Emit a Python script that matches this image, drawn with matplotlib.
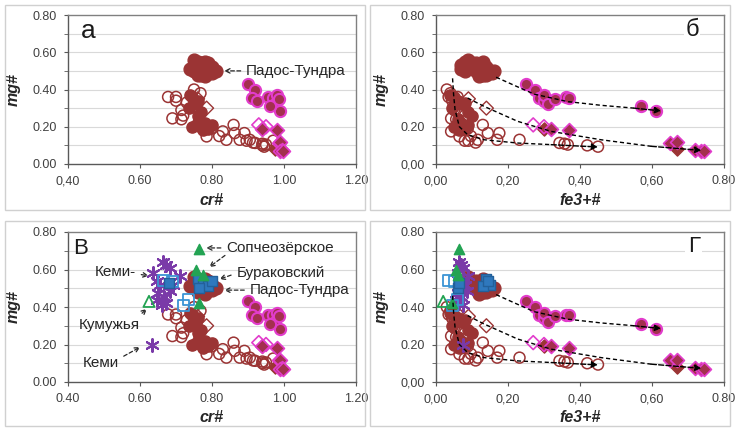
import matplotlib
matplotlib.use("Agg")
import matplotlib.pyplot as plt
from matplotlib.patches import Rectangle

plt.rcParams['font.family'] = ['Liberation Sans', 'DejaVu Sans']

# --- data: each group has cr#, fe3+# and mg# for the same samples ---
pados_cr = [0.75, 0.76, 0.77, 0.78, 0.75, 0.76, 0.78, 0.80, 0.81, 0.79, 0.77, 0.75, 0.76, 0.78, 0.80, 0.74, 0.79, 0.77]
pados_fe = [0.09, 0.08, 0.11, 0.13, 0.07, 0.10, 0.12, 0.14, 0.15, 0.16, 0.11, 0.08, 0.13, 0.12, 0.155, 0.07, 0.10, 0.14]
pados_mg = [0.56, 0.55, 0.54, 0.55, 0.53, 0.52, 0.52, 0.52, 0.50, 0.50, 0.50, 0.50, 0.48, 0.47, 0.49, 0.51, 0.54, 0.48]

low_cr = [0.745, 0.76, 0.75, 0.735, 0.77, 0.765, 0.78, 0.755, 0.745, 0.79, 0.80, 0.76, 0.775, 0.75, 0.74]
low_fe = [0.05, 0.06, 0.07, 0.045, 0.09, 0.06, 0.07, 0.055, 0.05, 0.08, 0.09, 0.10, 0.065, 0.08, 0.04]
low_mg = [0.36, 0.34, 0.32, 0.30, 0.28, 0.24, 0.22, 0.21, 0.20, 0.19, 0.21, 0.26, 0.18, 0.33, 0.37]

open_cr = [0.678, 0.70, 0.715, 0.69, 0.715, 0.75, 0.768, 0.73, 0.757, 0.766, 0.785, 0.80, 0.82, 0.84, 0.86,
           0.863, 0.877, 0.89, 0.905, 0.92, 0.94, 0.95, 0.94, 0.945, 0.914, 0.896, 0.97, 0.83, 0.70, 0.72]
open_fe = [0.035, 0.045, 0.05, 0.042, 0.056, 0.03, 0.04, 0.06, 0.05, 0.074, 0.065, 0.088, 0.097, 0.116, 0.13,
           0.144, 0.17, 0.176, 0.232, 0.343, 0.357, 0.366, 0.42, 0.45, 0.11, 0.09, 0.08, 0.042, 0.06, 0.08]
open_mg = [0.36, 0.34, 0.29, 0.245, 0.24, 0.40, 0.38, 0.33, 0.31, 0.20, 0.148, 0.19, 0.15, 0.13, 0.21,
           0.166, 0.13, 0.166, 0.13, 0.113, 0.109, 0.104, 0.10, 0.093, 0.115, 0.125, 0.125, 0.175, 0.36, 0.26]

mag_cr = [0.90, 0.92, 0.91, 0.925, 0.955, 0.97, 0.98, 0.975, 0.99, 0.96, 0.985]
mag_fe = [0.25, 0.275, 0.285, 0.30, 0.36, 0.37, 0.30, 0.31, 0.61, 0.57, 0.33]
mag_mg = [0.43, 0.40, 0.355, 0.34, 0.36, 0.355, 0.37, 0.32, 0.285, 0.31, 0.35]

dmo_cr = [0.93, 0.95]
dmo_fe = [0.27, 0.30]
dmo_mg = [0.21, 0.20]

dmf_cr = [0.94, 0.98, 0.985, 0.99, 0.995, 0.99, 0.997]
dmf_fe = [0.32, 0.37, 0.65, 0.67, 0.72, 0.735, 0.745]
dmf_mg = [0.19, 0.18, 0.115, 0.12, 0.075, 0.07, 0.072]

dbf_cr = [0.975, 0.94]
dbf_fe = [0.67, 0.30]
dbf_mg = [0.08, 0.19]

dbo_cr = [0.785, 0.76]
dbo_fe = [0.14, 0.09]
dbo_mg = [0.30, 0.35]

kemi_cr = [0.636, 0.646, 0.664, 0.673, 0.683, 0.655, 0.65, 0.668, 0.683, 0.673, 0.66, 0.71, 0.692, 0.646, 0.632]
kemi_fe = [0.06, 0.065, 0.065, 0.07, 0.075, 0.08, 0.06, 0.07, 0.085, 0.065, 0.075, 0.09, 0.08, 0.055, 0.075]
kemi_mg = [0.58, 0.54, 0.64, 0.625, 0.61, 0.52, 0.475, 0.455, 0.485, 0.42, 0.41, 0.565, 0.52, 0.44, 0.20]

sqo_cr = [0.665, 0.69, 0.72, 0.735]
sqo_fe = [0.035, 0.05, 0.045, 0.06]
sqo_mg = [0.54, 0.535, 0.41, 0.44]

burak_cr = [0.76, 0.775, 0.79, 0.80, 0.765, 0.68]
burak_fe = [0.14, 0.15, 0.13, 0.145, 0.06, 0.065]
burak_mg = [0.55, 0.52, 0.51, 0.54, 0.50, 0.53]

sop_cr = [0.765, 0.755, 0.775, 0.765]
sop_fe = [0.065, 0.055, 0.06, 0.045]
sop_mg = [0.71, 0.60, 0.57, 0.42]

kum_cr = [0.625]
kum_fe = [0.02]
kum_mg = [0.43]

# trend lines in fe3+# - mg# space
trend1_fe = [0.167, 0.22, 0.273, 0.366, 0.459, 0.55, 0.625]
trend1_mg = [0.466, 0.42, 0.375, 0.335, 0.315, 0.30, 0.285]
trend2_fe = [0.088, 0.134, 0.227, 0.32, 0.459, 0.598, 0.737]
trend2_mg = [0.354, 0.309, 0.229, 0.175, 0.13, 0.095, 0.073]
trend3_fe = [0.046, 0.049, 0.053, 0.065, 0.088, 0.134, 0.227, 0.32, 0.45]
trend3_mg = [0.46, 0.37, 0.29, 0.20, 0.157, 0.13, 0.1125, 0.104, 0.091]

cr_ticks = [0.40, 0.60, 0.80, 1.00, 1.20]
fe_ticks = [0.00, 0.20, 0.40, 0.60, 0.80]
mg_ticks = [0.00, 0.20, 0.40, 0.60, 0.80]

BROWN = '#9b3434'
MAG = '#e23ccc'
MAGF = '#a3304e'
PURPLE = '#7a3aa8'
BLUE = '#2f78bd'
BLUE2 = '#3b94d4'
GREEN = '#23a353'

fig = plt.figure(figsize=(7.37, 4.3), dpi=100)

# chart-area frames
for x0, y0 in [(5, 5), (370, 5), (5, 221), (370, 221)]:
    fig.patches.append(Rectangle((x0 / 737, 1 - (y0 + 205) / 430), 360 / 737, 205 / 430,
                                 transform=fig.transFigure, fill=False,
                                 edgecolor='#d0d0d0', lw=1.0))

W = 288 / 737
ax_a = fig.add_axes([68 / 737, 1 - 164 / 430, W, 149 / 430])
ax_b = fig.add_axes([436 / 737, 1 - 164 / 430, W, 149 / 430])
ax_c = fig.add_axes([68 / 737, 1 - 382 / 430, W, 150 / 430])
ax_d = fig.add_axes([436 / 737, 1 - 382 / 430, W, 150 / 430])


def style(ax, xt, xl, yl, xlabel, xlab_y):
    ax.set_xlim(xt[0], xt[-1])
    ax.set_ylim(0, 0.8)
    ax.set_xticks(xt)
    ax.set_xticklabels(xl)
    ax.set_yticks(mg_ticks)
    ax.set_yticklabels(yl)
    ax.set_yticks([0.1, 0.3, 0.5, 0.7], minor=True)
    for g in [0.1, 0.2, 0.3, 0.4, 0.5, 0.6, 0.7]:
        ax.axhline(g, color='#d9d9d9', lw=0.8, zorder=0)
    ax.tick_params(axis='both', which='both', direction='out', length=3,
                   color='#595959', labelsize=9, labelcolor='#404040', pad=5)
    for s in ax.spines.values():
        s.set_color('#808080')
        s.set_linewidth(1.0)
    ax.spines['left'].set_color('#595959')
    ax.spines['bottom'].set_color('#595959')
    ax.set_ylabel('mg#', fontsize=11.5, fontweight='bold', style='italic', color='#262626')
    ax.yaxis.set_label_coords(-0.163, 0.5)
    ax.set_xlabel(xlabel, fontsize=11.5, fontweight='bold', style='italic', color='#262626')
    ax.xaxis.set_label_coords(0.5, xlab_y)


def base(ax, use_fe):
    xs = lambda cr, fe: fe if use_fe else cr
    ax.scatter(xs(open_cr, open_fe), open_mg, s=62, facecolors='none', edgecolors=BROWN, lw=1.1, zorder=3)
    ax.scatter(xs(low_cr, low_fe), low_mg, s=65, c=BROWN, edgecolors=BROWN, zorder=3)
    ax.scatter(xs(pados_cr, pados_fe), pados_mg, s=85, c=BROWN, edgecolors=BROWN, zorder=3)
    ax.scatter(xs(mag_cr, mag_fe), mag_mg, s=65, c=MAGF, edgecolors=MAG, lw=1.5, zorder=3)
    ax.scatter(xs(dbo_cr, dbo_fe), dbo_mg, s=50, marker='D', facecolors='none', edgecolors=BROWN, lw=1.0, zorder=3)
    ax.scatter(xs(dbf_cr, dbf_fe), dbf_mg, s=45, marker='D', c=BROWN, edgecolors=BROWN, zorder=3)
    ax.scatter(xs(dmo_cr, dmo_fe), dmo_mg, s=50, marker='D', facecolors='none', edgecolors=MAG, lw=1.2, zorder=3)
    ax.scatter(xs(dmf_cr, dmf_fe), dmf_mg, s=50, marker='D', c=MAGF, edgecolors=MAG, lw=1.2, zorder=3)
    if use_fe:
        for tx, ty in [(trend1_fe, trend1_mg), (trend2_fe, trend2_mg), (trend3_fe, trend3_mg)]:
            ax.plot(tx[:-1], ty[:-1], ls='--', color='black', lw=1.0, dashes=(3, 2), zorder=5)
            ax.annotate('', xy=(tx[-1], ty[-1]), xytext=(tx[-2], ty[-2]),
                        arrowprops=dict(arrowstyle='-|>', color='black', lw=1.0, ls='--',
                                        mutation_scale=9, shrinkA=0, shrinkB=0), zorder=5)


def extra(ax, use_fe):
    xs = lambda cr, fe: fe if use_fe else cr
    ax.scatter(xs(kemi_cr, kemi_fe), kemi_mg, s=85, marker=(6, 2, 0), c=PURPLE, lw=1.5, zorder=4)
    ax.scatter(xs(sqo_cr, sqo_fe), sqo_mg, s=60, marker='s', facecolors='none', edgecolors=BLUE2, lw=1.3, zorder=4)
    ax.scatter(xs(burak_cr, burak_fe), burak_mg, s=60, marker='s', c=BLUE, edgecolors='#23609a', zorder=4)
    ax.scatter(xs(sop_cr, sop_fe), sop_mg, s=55, marker='^', c=GREEN, edgecolors=GREEN, zorder=4)
    ax.scatter(xs(kum_cr, kum_fe), kum_mg, s=65, marker='^', facecolors='none', edgecolors=GREEN, lw=1.3, zorder=4)


def note(ax, text, tip, pos, ha='left', rel=(0, 0.5)):
    ax.annotate(text, xy=tip, xytext=pos, fontsize=11, color='#262626', ha=ha, va='center',
                annotation_clip=False, zorder=6,
                arrowprops=dict(arrowstyle='->', color='#262626', lw=0.9, ls=(0, (3, 2)),
                                relpos=rel, shrinkA=2, shrinkB=1, mutation_scale=8))


style(ax_a, cr_ticks, ['0,40', '0.60', '0.80', '1.00', '1.20'],
      ['0.00', '0.20', '0.40', '0.60', '0.80'], 'cr#', -0.195)
style(ax_b, fe_ticks, ['0,00', '0,20', '0,40', '0,60', '0.80'],
      ['0,00', '0.20', '0.40', '0.60', '0.80'], 'fe3+#', -0.195)
style(ax_c, cr_ticks, ['0.40', '0.60', '0.80', '1.00', '1.20'],
      ['0.00', '0.20', '0.40', '0.60', '0.80'], 'cr#', -0.185)
style(ax_d, fe_ticks, ['0,00', '0,20', '0,40', '0,60', '0.80'],
      ['0,00', '0.20', '0.40', '0.60', '0.80'], 'fe3+#', -0.185)

base(ax_a, False)
base(ax_b, True)
base(ax_c, False)
base(ax_d, True)
extra(ax_c, False)
extra(ax_d, True)

note(ax_a, 'Падос-Тундра', (0.83, 0.50), (0.895, 0.50))

note(ax_c, 'Сопчеозёрское', (0.78, 0.715), (0.84, 0.715))
ax_c.annotate('', xy=(0.789, 0.608), xytext=(0.836, 0.675),
              arrowprops=dict(arrowstyle='->', color='#262626', lw=0.9, ls=(0, (3, 2)),
                              shrinkA=0, shrinkB=1, mutation_scale=8))
note(ax_c, 'Бураковский', (0.817, 0.546), (0.868, 0.58))
note(ax_c, 'Падос-Тундра', (0.83, 0.49), (0.905, 0.49))
note(ax_c, 'Кеми-', (0.628, 0.565), (0.474, 0.585), rel=(1, 0.4))
note(ax_c, 'Кумужья', (0.622, 0.395), (0.43, 0.305), rel=(0.95, 1))
note(ax_c, 'Кеми', (0.604, 0.19), (0.44, 0.10), rel=(1, 0.8))

ax_a.text(0.07, 0.895, 'а', transform=ax_a.transAxes, fontsize=19, ha='center', va='center', color='#1a1a1a')
ax_b.text(0.89, 0.9, 'б', transform=ax_b.transAxes, fontsize=17, ha='center', va='center', color='#1a1a1a',
          bbox=dict(facecolor='white', edgecolor='none', pad=1))
ax_c.text(0.018, 0.89, 'В', transform=ax_c.transAxes, fontsize=16, ha='left', va='center', color='#1a1a1a')
ax_d.text(0.895, 0.9, 'Г', transform=ax_d.transAxes, fontsize=16, ha='center', va='center', color='#1a1a1a',
          bbox=dict(facecolor='white', edgecolor='none', pad=2))

fig.savefig('out.png', dpi=100)
